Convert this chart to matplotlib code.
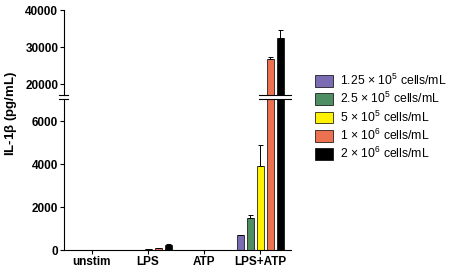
import matplotlib
matplotlib.use('Agg')
import matplotlib.pyplot as plt
import numpy as np

plt.rcParams['font.family'] = ['Liberation Sans', 'DejaVu Sans']
plt.rcParams['mathtext.default'] = 'regular'

# 数据
groups = ['unstim', 'LPS', 'ATP', 'LPS+ATP']
densities = [r'1.25 $\times$ 10$^{5}$ cells/mL', r'2.5 $\times$ 10$^{5}$ cells/mL',
             r'5 $\times$ 10$^{5}$ cells/mL', r'1 $\times$ 10$^{6}$ cells/mL',
             r'2 $\times$ 10$^{6}$ cells/mL']
colors = ['#7A6BB2', '#4F8D62', '#FFF200', '#EB7150', '#000000']

# 每个细胞密度在四组中的均值和误差
means = [
    [0, 20, 0, 720],
    [0, 25, 0, 1500],
    [0, 35, 0, 3900],
    [0, 100, 0, 26700],
    [0, 230, 0, 32400],
]
errors = [
    [0, 0, 0, 0],
    [0, 0, 0, 110],
    [0, 0, 0, 1000],
    [0, 0, 0, 700],
    [0, 40, 0, 2300],
]

fig = plt.figure(figsize=(4.5, 2.73), dpi=100)
left, right = 0.142, 0.647
ax_top = fig.add_axes([left, 0.652, right - left, 0.963 - 0.652])
ax_bot = fig.add_axes([left, 0.084, right - left, 0.637 - 0.084])

x = np.arange(len(groups))
width = 0.125
step = 0.18

for ax in (ax_top, ax_bot):
    for i in range(len(densities)):
        pos = x + (i - 2) * step
        ax.bar(pos, means[i], width, color=colors[i], edgecolor='black',
               linewidth=0.5, label=densities[i], zorder=2)
        ax.errorbar(pos, means[i], yerr=[np.zeros(len(groups)), errors[i]],
                    fmt='none', ecolor='black', elinewidth=0.7, capsize=1.8,
                    capthick=0.7, zorder=3)
    ax.set_xlim(-0.5, 3.55)
    for s in ('top', 'right'):
        ax.spines[s].set_visible(False)
    ax.spines['left'].set_linewidth(0.8)
    ax.tick_params(axis='y', labelsize=8.5, width=0.8, length=3, pad=1)

ax_top.set_ylim(17030, 40000)
ax_top.set_yticks([20000, 30000, 40000])
ax_top.spines['bottom'].set_visible(False)
ax_top.set_xticks([])

ax_bot.set_ylim(0, 7020)
ax_bot.set_yticks([0, 2000, 4000, 6000])
ax_bot.spines['bottom'].set_linewidth(0.8)
ax_bot.set_xticks(x)
ax_bot.set_xticklabels(groups, fontsize=8.5, fontweight='bold')
ax_bot.tick_params(axis='x', width=0.8, length=3, pad=1)

for ax in (ax_top, ax_bot):
    for lab in ax.get_yticklabels():
        lab.set_fontweight('bold')

# 断轴标记
for ax, yy in ((ax_top, 0.0), (ax_bot, 1.0)):
    ax.plot([-0.02, 0.02], [yy, yy], transform=ax.transAxes, color='black',
            lw=0.8, clip_on=False, zorder=5)
    ax.plot([0.86, 1.0], [yy, yy], transform=ax.transAxes, color='black',
            lw=0.8, clip_on=False, zorder=5)

fig.text(0.025, 0.586, r'IL-1$\beta$ (pg/mL)', rotation=90, ha='center',
         va='center', fontsize=9.5, fontweight='bold')

handles, labels = ax_bot.get_legend_handles_labels()
fig.legend(handles, labels, loc='center left', bbox_to_anchor=(0.69, 0.571),
           frameon=False, fontsize=8.8, handlelength=1.4, handleheight=1.1,
           handletextpad=0.6, labelspacing=0.25, borderaxespad=0)

fig.savefig('out.png', dpi=100)
